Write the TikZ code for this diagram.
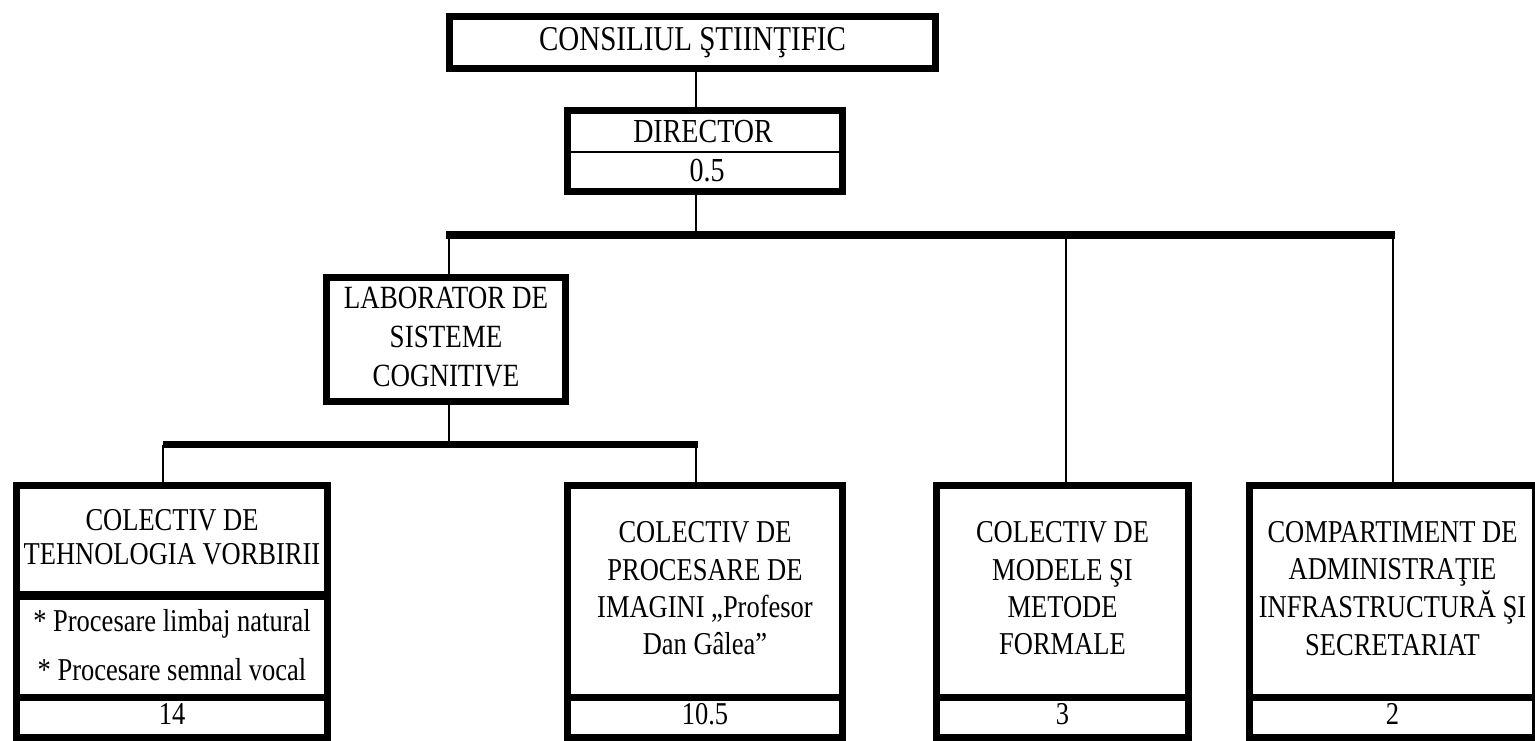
\documentclass[tikz,border=0pt]{standalone}
\usepackage{fontspec}
\setmainfont{Liberation Serif}
\usepackage{graphicx}
\newcommand{\mltext}[3]{\scalebox{1}[1.2]{\fontsize{#1}{#2}\selectfont\begin{tabular}{@{}c@{}}#3\end{tabular}}}
\begin{document}
\begin{tikzpicture}[x=1pt,y=-1pt,
  orgbox/.style={draw=black, line width=7pt, inner sep=0pt, fill=white},
  plaintext/.style={inner sep=0pt},
  conn/.style={draw=black, line width=2pt},
  busline/.style={draw=black, line width=8pt, line cap=butt},
  subbus/.style={draw=black, line width=7pt, line cap=butt}]
\fill[white] (0,0) rectangle (1535,740);
\useasboundingbox (0,0) rectangle (1535,740);

% reference coordinates for connector positions
\coordinate (xc) at (696,0);
\coordinate (xl) at (449,0);
\coordinate (x1) at (163,0);
\coordinate (x2) at (696,0);
\coordinate (x3) at (1066,0);
\coordinate (x4) at (1393,0);
\coordinate (busL) at (446,235);
\coordinate (busR) at (1395,235);
\coordinate (sbL) at (163,444.5);
\coordinate (sbR) at (698,444.5);
\coordinate (dv) at (0,152);
\coordinate (d1) at (0,595);

% top
\node[orgbox, minimum width=486pt, minimum height=52pt] (cons) at (692.5,42.5)
  {\mltext{29}{31.25}{CONSILIUL ŞTIINŢIFIC}};
\node[orgbox, minimum width=275pt, minimum height=81pt] (dir) at (705,151) {};
\node[plaintext] (dirt) at (703,134.6) {\mltext{28}{31.25}{DIRECTOR}};
\node[plaintext] (dirn) at (707,173.6) {\mltext{28}{31.25}{0.5}};
\draw[line width=2pt] (dir.west |- dv) -- (dir.east |- dv);

% laboratory
\node[orgbox, minimum width=239pt, minimum height=124pt] (lab) at (446,339.5)
  {\mltext{27}{32.5}{LABORATOR DE\\SISTEME\\COGNITIVE}};

% box 1
\node[orgbox, minimum width=311pt, minimum height=109.5pt] (b1a) at (172,540.25)
  {\mltext{26.5}{28.3}{COLECTIV DE\\TEHNOLOGIA VORBIRII}};
\node[orgbox, minimum width=311pt, minimum height=102pt] (b1b) at (172,646)
  {\mltext{26.5}{40.8}{* Procesare limbaj natural\\ \relax * Procesare semnal vocal}};
\node[orgbox, minimum width=311pt, minimum height=40.5pt] (b1c) at (172,717.25)
  {\mltext{26.5}{31.25}{14}};
\draw[line width=9pt] (b1a.west |- d1) -- (b1a.east |- d1);

% box 2
\node[orgbox, minimum width=275pt, minimum height=211.5pt] (b2a) at (705,591.25)
  {\mltext{26.5}{31.1}{COLECTIV DE\\PROCESARE DE\\IMAGINI „Profesor\\Dan Gâlea”}};
\node[orgbox, minimum width=275pt, minimum height=40.5pt] (b2b) at (705,717.25)
  {\mltext{26.5}{31.25}{10.5}};

% box 3
\node[orgbox, minimum width=252pt, minimum height=211.5pt] (b3a) at (1062.5,591.25)
  {\mltext{26.5}{31.1}{COLECTIV DE\\MODELE ŞI\\METODE\\FORMALE}};
\node[orgbox, minimum width=252pt, minimum height=40.5pt] (b3b) at (1062.5,717.25)
  {\mltext{26.5}{31.25}{3}};

% box 4
\node[orgbox, minimum width=286pt, minimum height=211.5pt] (b4a) at (1392.5,591.25)
  {\mltext{26.5}{31.1}{COMPARTIMENT DE\\ADMINISTRAŢIE\\INFRASTRUCTURĂ ŞI\\SECRETARIAT}};
\node[orgbox, minimum width=286pt, minimum height=40.5pt] (b4b) at (1392.5,717.25)
  {\mltext{26.5}{31.25}{2}};

% connectors
\draw[conn] (cons.south -| xc) -- (dir.north -| xc);
\draw[conn] (dir.south -| xc) -- (xc |- busL);
\draw[busline] (busL) -- (busR);
\draw[conn] (xl |- busL) -- (lab.north -| xl);
\draw[conn] (x3 |- busL) -- (b3a.north -| x3);
\draw[conn] (x4 |- busL) -- (b4a.north -| x4);
\draw[conn] (lab.south -| xl) -- (xl |- sbL);
\draw[subbus] (sbL) -- (sbR);
\draw[conn] (x1 |- sbL) -- (b1a.north -| x1);
\draw[conn] (x2 |- sbL) -- (b2a.north -| x2);
\end{tikzpicture}
\end{document}
